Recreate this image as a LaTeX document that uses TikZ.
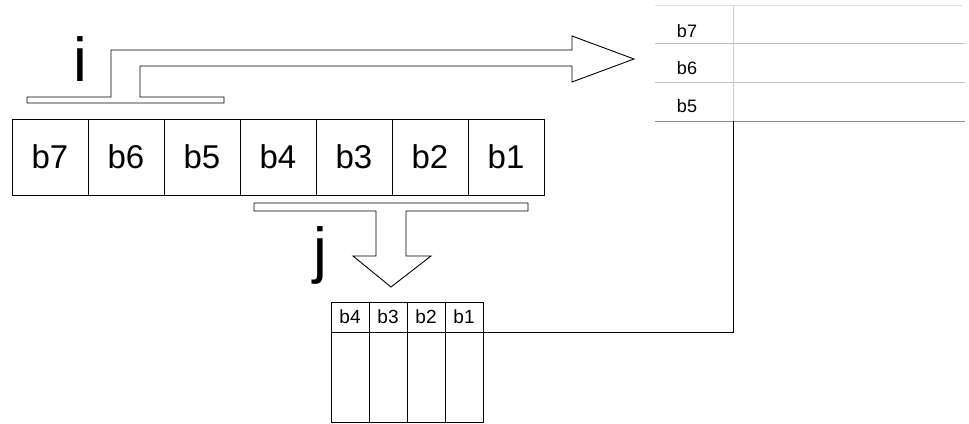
\documentclass[tikz,border=0pt]{standalone}
\usepackage{fontspec}
\setmainfont{Liberation Sans}
\begin{document}
\begin{tikzpicture}[x=1pt,y=-1pt,
  bigcell/.style={draw=black,line width=0.9pt,minimum width=76pt,minimum height=76pt,inner sep=0pt,font=\fontsize{33}{33}\selectfont},
  smallcell/.style={draw=black,line width=0.9pt,minimum width=38pt,minimum height=30pt,inner sep=0pt,font=\fontsize{19}{19}\selectfont},
  bodycell/.style={draw=black,line width=0.9pt,minimum width=38pt,minimum height=90pt,inner sep=0pt},
  rlabel/.style={inner sep=0pt,font=\fontsize{18}{18}\selectfont},
  grayline/.style={draw=black!25,line width=0.7pt},
  hollow/.style={draw=black,line width=0.9pt,line join=miter},
  letter/.style={inner sep=0pt,font=\fontsize{62}{62}\selectfont}]
\useasboundingbox (0,0) rectangle (969,423);
% big row
\node[bigcell] (b7) at (50,157) {b7};
\node[bigcell] (b6) at (126,157) {b6};
\node[bigcell] (b5) at (202,157) {b5};
\node[bigcell] (b4) at (278,157) {b4};
\node[bigcell] (b3) at (354,157) {b3};
\node[bigcell] (b2) at (430,157) {b2};
\node[bigcell] (b1) at (506,157) {b1};
% i bracket with arrow
\draw[hollow] (27,103) -- (27,97) -- (111,97) -- (111,50) -- (572,50) -- (572,36)
  -- (634,59) -- (572,82) -- (572,66) -- (140,66) -- (140,97) -- (224,97)
  -- (224,103) -- cycle;
\node[letter,anchor=base] (li) at (80,81) {i};
% j bracket with arrow
\draw[hollow] (254,203) -- (528,203) -- (528,211) -- (406,211) -- (406,256)
  -- (431,256) -- (391,287) -- (353,256) -- (376,256) -- (376,211)
  -- (254,211) -- cycle;
\node[letter,anchor=base] (lj) at (320,271) {j};
% right table
\draw[grayline,draw=black!12] (655,5) -- (962,5);
\draw[grayline] (655,43) -- (965,43);
\draw[grayline] (655,82) -- (965,82);
\draw[grayline,draw=black!45] (655,121) -- (965,121);
\draw[grayline,draw=black!20] (733,5) -- (733,121);
\node[rlabel] (r7) at (687,31) {b7};
\node[rlabel] (r6) at (687,68) {b6};
\node[rlabel] (r5) at (687,106) {b5};
\coordinate (rc) at (733,121);
% small table
\node[smallcell] (s4) at (350,317) {b4};
\node[smallcell] (s3) at (388,317) {b3};
\node[smallcell] (s2) at (426,317) {b2};
\node[smallcell] (s1) at (464,317) {b1};
\node[bodycell] (t4) at (350,377) {};
\node[bodycell] (t3) at (388,377) {};
\node[bodycell] (t2) at (426,377) {};
\node[bodycell] (t1) at (464,377) {};
% connector
\draw[black,line width=0.9pt] (s1.south east) -| (rc);
\end{tikzpicture}
\end{document}
